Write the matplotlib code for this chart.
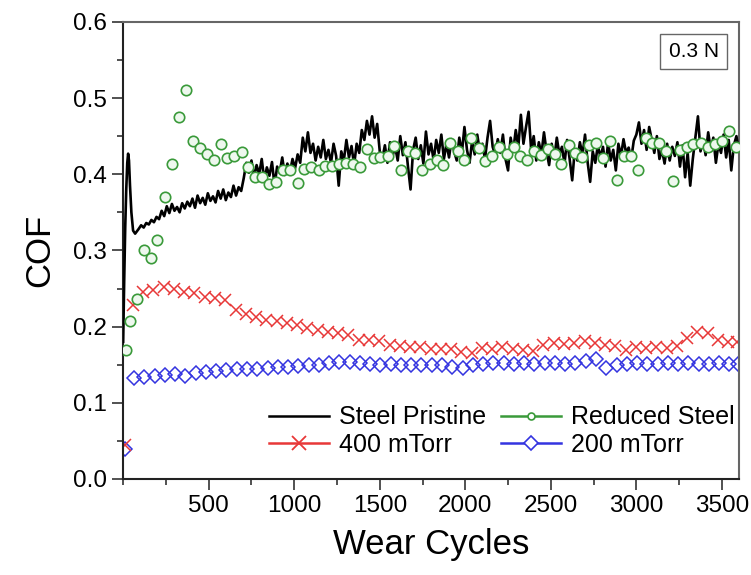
import matplotlib
matplotlib.use("Agg")
import matplotlib.pyplot as plt
from matplotlib.lines import Line2D

plt.rcParams['font.family'] = ['Liberation Sans', 'DejaVu Sans']

# Steel Pristine (black line): sharp start-up spike, then regular samples every 15 cycles
pristine_x = [0, 6, 12, 18, 24, 29, 34, 40, 48, 58, 70] + list(range(90, 3601, 15))
pristine_cof = [
    0.18, 0.26, 0.33, 0.38, 0.415, 0.427, 0.418, 0.385, 0.350, 0.326, 0.322,
    # 90 - 375
    0.328, 0.333, 0.330, 0.336, 0.334, 0.340, 0.337, 0.344, 0.341, 0.352,
    0.345, 0.358, 0.349, 0.361, 0.352, 0.357, 0.350, 0.362, 0.355, 0.364,
    # 390 - 675
    0.358, 0.368, 0.356, 0.372, 0.362, 0.369, 0.360, 0.375, 0.365, 0.371,
    0.363, 0.378, 0.368, 0.380, 0.366, 0.376, 0.370, 0.385, 0.372, 0.383,
    # 690 - 975
    0.378, 0.395, 0.415, 0.402, 0.418, 0.396, 0.412, 0.400, 0.420, 0.392,
    0.409, 0.398, 0.416, 0.385, 0.410, 0.402, 0.422, 0.399, 0.414, 0.403,
    # 990 - 1275
    0.420, 0.408, 0.426, 0.415, 0.448, 0.430, 0.455, 0.428, 0.440, 0.418,
    0.436, 0.422, 0.445, 0.420, 0.432, 0.415, 0.440, 0.424, 0.385, 0.430,
    # 1290 - 1575
    0.418, 0.445, 0.422, 0.437, 0.412, 0.440, 0.428, 0.458, 0.445, 0.470,
    0.452, 0.476, 0.448, 0.466, 0.430, 0.420, 0.438, 0.415, 0.442, 0.424,
    # 1590 - 1875
    0.436, 0.418, 0.450, 0.425, 0.442, 0.410, 0.380, 0.432, 0.448, 0.420,
    0.438, 0.414, 0.456, 0.426, 0.440, 0.418, 0.445, 0.428, 0.452, 0.420,
    # 1890 - 2175
    0.440, 0.422, 0.446, 0.430, 0.418, 0.448, 0.428, 0.462, 0.432, 0.415,
    0.444, 0.426, 0.452, 0.430, 0.440, 0.420, 0.448, 0.470, 0.436, 0.425,
    # 2190 - 2475
    0.446, 0.428, 0.452, 0.420, 0.405, 0.448, 0.430, 0.458, 0.436, 0.478,
    0.440, 0.462, 0.482, 0.432, 0.450, 0.418, 0.442, 0.426, 0.455, 0.430,
    # 2490 - 2775
    0.412, 0.440, 0.420, 0.448, 0.426, 0.436, 0.414, 0.445, 0.420, 0.392,
    0.432, 0.418, 0.442, 0.425, 0.452, 0.416, 0.390, 0.430, 0.415, 0.438,
    # 2790 - 3075
    0.422, 0.436, 0.410, 0.442, 0.418, 0.432, 0.405, 0.440, 0.424, 0.446,
    0.428, 0.435, 0.420, 0.444, 0.452, 0.468, 0.440, 0.458, 0.432, 0.462,
    # 3090 - 3375
    0.445, 0.428, 0.450, 0.420, 0.432, 0.414, 0.440, 0.418, 0.436, 0.424,
    0.442, 0.410, 0.438, 0.396, 0.428, 0.385, 0.420, 0.448, 0.476, 0.430,
    # 3390 - 3600
    0.446, 0.425, 0.455, 0.432, 0.448, 0.415, 0.440, 0.428, 0.452, 0.422,
    0.445, 0.405, 0.438, 0.450, 0.430,
]

# Reduced Steel (green open circles)
reduced_x = [14, 39, 80, 120, 162, 200, 246, 287, 326, 366, 410, 449, 488, 529,
             570, 609, 650, 693, 732, 771, 810, 854, 895, 937, 976, 1020, 1059,
             1099, 1142, 1180, 1219, 1259, 1302, 1341, 1386, 1425, 1464, 1503,
             1546, 1585, 1626, 1666, 1706, 1749, 1791, 1833, 1872, 1910, 1956,
             1995, 2034, 2079, 2118, 2157, 2196, 2241, 2284, 2319, 2358, 2401,
             2440, 2483, 2522, 2561, 2605, 2644, 2683, 2722, 2767, 2807, 2846,
             2889, 2928, 2967, 3010, 3055, 3094, 3133, 3176, 3217, 3256, 3295,
             3334, 3377, 3416, 3459, 3498, 3543, 3582]
reduced_cof = [0.169, 0.208, 0.236, 0.301, 0.290, 0.314, 0.370, 0.414, 0.475,
               0.511, 0.443, 0.435, 0.427, 0.419, 0.440, 0.421, 0.424, 0.429,
               0.409, 0.397, 0.397, 0.387, 0.390, 0.406, 0.406, 0.389, 0.407,
               0.410, 0.405, 0.411, 0.411, 0.414, 0.415, 0.414, 0.409, 0.433,
               0.421, 0.423, 0.424, 0.437, 0.406, 0.431, 0.428, 0.406, 0.413,
               0.419, 0.412, 0.441, 0.431, 0.419, 0.448, 0.434, 0.418, 0.424,
               0.436, 0.426, 0.436, 0.424, 0.419, 0.430, 0.425, 0.433, 0.426,
               0.414, 0.438, 0.428, 0.422, 0.438, 0.441, 0.421, 0.443, 0.392,
               0.424, 0.424, 0.405, 0.447, 0.441, 0.441, 0.430, 0.391, 0.432,
               0.436, 0.440, 0.441, 0.436, 0.440, 0.443, 0.457, 0.436]

# 400 mTorr (red crosses)
torr400_x = [10, 57, 117, 177, 237, 297, 357, 417, 477, 537, 597, 657, 717, 777,
             837, 897, 957, 1017, 1077, 1137, 1197, 1257, 1317, 1377, 1437,
             1497, 1557, 1617, 1677, 1737, 1797, 1857, 1917, 1977, 2037, 2097,
             2157, 2217, 2277, 2337, 2397, 2457, 2517, 2577, 2637, 2697, 2757,
             2817, 2877, 2937, 2997, 3057, 3117, 3177, 3237, 3297, 3357, 3417,
             3477, 3537, 3590]
torr400_cof = [0.044, 0.228, 0.246, 0.248, 0.252, 0.250, 0.245, 0.244, 0.239,
               0.237, 0.235, 0.222, 0.217, 0.213, 0.209, 0.207, 0.205, 0.202,
               0.198, 0.196, 0.193, 0.192, 0.189, 0.183, 0.183, 0.181, 0.176,
               0.175, 0.173, 0.173, 0.171, 0.171, 0.170, 0.167, 0.166, 0.172,
               0.170, 0.173, 0.171, 0.169, 0.168, 0.176, 0.178, 0.177, 0.178,
               0.181, 0.178, 0.176, 0.175, 0.169, 0.173, 0.172, 0.173, 0.172,
               0.174, 0.185, 0.193, 0.191, 0.182, 0.180, 0.180]

# 200 mTorr (blue diamonds)
torr200_x = [10, 64, 124, 184, 244, 304, 364, 424, 484, 544, 604, 664, 724, 784,
             844, 904, 964, 1024, 1084, 1144, 1204, 1264, 1324, 1384, 1444,
             1504, 1564, 1624, 1684, 1744, 1804, 1864, 1924, 1984, 2044, 2104,
             2164, 2224, 2284, 2344, 2404, 2464, 2524, 2584, 2644, 2704, 2764,
             2824, 2884, 2944, 3004, 3064, 3124, 3184, 3244, 3304, 3364, 3424,
             3484, 3544, 3595]
torr200_cof = [0.040, 0.133, 0.134, 0.135, 0.136, 0.138, 0.135, 0.139, 0.141,
               0.142, 0.143, 0.144, 0.144, 0.145, 0.146, 0.147, 0.147, 0.148,
               0.149, 0.150, 0.152, 0.153, 0.153, 0.152, 0.151, 0.150, 0.151,
               0.150, 0.149, 0.150, 0.149, 0.150, 0.147, 0.146, 0.150, 0.151,
               0.152, 0.152, 0.151, 0.152, 0.151, 0.152, 0.152, 0.151, 0.152,
               0.155, 0.158, 0.146, 0.149, 0.151, 0.152, 0.151, 0.151, 0.152,
               0.151, 0.152, 0.151, 0.151, 0.152, 0.151, 0.151]

green = '#3a9a3a'
red = '#e83838'
blue = '#3434e0'

fig = plt.figure(figsize=(7.51, 5.75), dpi=100)
ax = fig.add_axes([0.164, 0.167, 0.820, 0.795])

ax.plot(torr200_x, torr200_cof, ls='none', marker='D', ms=7, mfc='none',
        mec=blue, mew=1.1, zorder=2)
ax.plot(torr400_x, torr400_cof, ls='none', marker='x', ms=9, mec=red,
        mew=1.1, zorder=2)
ax.plot(pristine_x, pristine_cof, color='black', lw=1.9, zorder=3)
ax.plot(reduced_x, reduced_cof, ls='none', marker='o', ms=7.5, mfc='#eef8ee',
        mec=green, mew=1.2, zorder=4)

ax.set_xlim(0, 3600)
ax.set_ylim(0, 0.6)
ax.set_xticks([500, 1000, 1500, 2000, 2500, 3000, 3500])
ax.set_xticks(range(0, 3601, 250), minor=True)
ax.set_yticks([0.0, 0.1, 0.2, 0.3, 0.4, 0.5, 0.6])
ax.set_yticks([0.05, 0.15, 0.25, 0.35, 0.45, 0.55], minor=True)
ax.set_yticklabels(['0.0', '0.1', '0.2', '0.3', '0.4', '0.5', '0.6'])
ax.tick_params(which='major', direction='out', length=8, width=1.2,
               labelsize=17.5, color='#333333')
ax.tick_params(which='minor', direction='out', length=4, width=1.2,
               color='#333333')
for side in ['left', 'bottom']:
    ax.spines[side].set_color('#222222')
    ax.spines[side].set_linewidth(1.5)
for side in ['top', 'right']:
    ax.spines[side].set_color('#666666')
    ax.spines[side].set_linewidth(1.5)

ax.set_xlabel('Wear Cycles', fontsize=25, labelpad=8)
ax.set_ylabel('COF', fontsize=25, labelpad=12)

ax.text(0.967, 0.935, '0.3 N', transform=ax.transAxes, ha='right', va='center',
        fontsize=15,
        bbox=dict(boxstyle='square,pad=0.4', fc='white', ec='#666666', lw=1))

handles = [
    Line2D([], [], color='black', lw=1.8),
    Line2D([], [], color=red, lw=1.8, marker='x', ms=10, mew=1.3),
    Line2D([], [], color=green, lw=1.8, marker='o', ms=5, mfc='white', mew=1.2),
    Line2D([], [], color=blue, lw=1.8, marker='D', ms=7, mfc='white', mew=1.2),
]
labels = ['Steel Pristine', '400 mTorr', 'Reduced Steel', '200 mTorr']
ax.legend(handles, labels, ncol=2, loc='lower right',
          bbox_to_anchor=(1.017, 0.015), frameon=False, fontsize=18,
          handlelength=2.4, handletextpad=0.4, columnspacing=0.6,
          labelspacing=0.15, borderaxespad=0.2)

fig.savefig('out.png', dpi=100)
